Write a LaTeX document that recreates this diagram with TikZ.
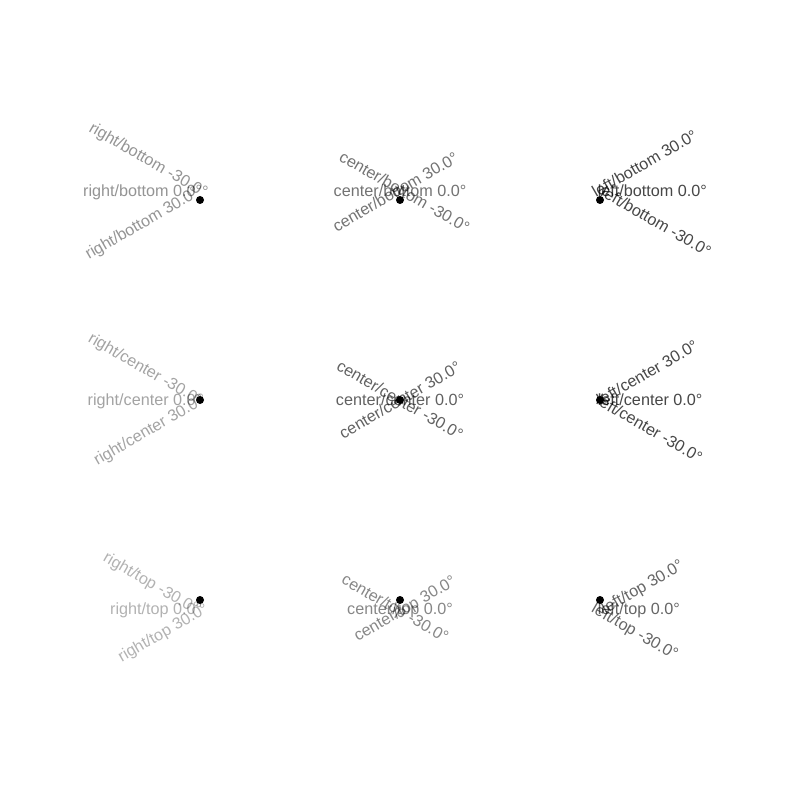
\documentclass[tikz,border=0pt]{standalone}
\usepackage{fontspec}
\setmainfont{Liberation Sans}
\tikzset{
	x=0.01in, y=-0.01in, % one unit is one pixel of the picture, y goes down
	lbl/.style={font=\fontsize{11.7}{13}\selectfont, text=black, inner xsep=-0.025in, inner ysep=0pt, text height=10.6pt, text depth=2.5pt}, % every label
	rbot/.style={lbl, anchor=south east, text opacity=0.42},
	cbot/.style={lbl, anchor=south, text opacity=0.55},
	lbot/.style={lbl, anchor=south west, text opacity=0.72},
	rcen/.style={lbl, anchor=east, text opacity=0.36},
	ccen/.style={lbl, anchor=center, text opacity=0.62},
	lcen/.style={lbl, anchor=west, text opacity=0.72},
	rtop/.style={lbl, anchor=north east, text opacity=0.30},
	ctop/.style={lbl, anchor=north, text opacity=0.47},
	ltop/.style={lbl, anchor=north west, text opacity=0.60},
	spot/.style={fill=black}, % the anchor points
}

\begin{document}
\begin{tikzpicture}
	\fill[white] (0,0) rectangle (800,800);
	\coordinate (p11) at (200,200);
	\coordinate (p12) at (400,200);
	\coordinate (p13) at (600,200);
	\coordinate (p21) at (200,400);
	\coordinate (p22) at (400,400);
	\coordinate (p23) at (600,400);
	\coordinate (p31) at (200,600);
	\coordinate (p32) at (400,600);
	\coordinate (p33) at (600,600);

	% top row
	\node[rbot, rotate=-30] (rb1) at (p11) {right/bottom -30.0°};
	\node[rbot] (rb2) at (p11) {right/bottom 0.0°};
	\node[rbot, rotate=30] (rb3) at (p11) {right/bottom 30.0°};
	\node[cbot, rotate=-30] (cb1) at (p12) {center/bottom -30.0°};
	\node[cbot] (cb2) at (p12) {center/bottom 0.0°};
	\node[cbot, rotate=30] (cb3) at (p12) {center/bottom 30.0°};
	\node[lbot, rotate=-30] (lb1) at (p13) {left/bottom -30.0°};
	\node[lbot] (lb2) at (p13) {left/bottom 0.0°};
	\node[lbot, rotate=30] (lb3) at (p13) {left/bottom 30.0°};

	% middle row
	\node[rcen, rotate=-30] (rc1) at (p21) {right/center -30.0°};
	\node[rcen] (rc2) at (p21) {right/center 0.0°};
	\node[rcen, rotate=30] (rc3) at (p21) {right/center 30.0°};
	\node[ccen, rotate=-30] (cc1) at (p22) {center/center -30.0°};
	\node[ccen] (cc2) at (p22) {center/center 0.0°};
	\node[ccen, rotate=30] (cc3) at (p22) {center/center 30.0°};
	\node[lcen, rotate=-30] (lc1) at (p23) {left/center -30.0°};
	\node[lcen] (lc2) at (p23) {left/center 0.0°};
	\node[lcen, rotate=30] (lc3) at (p23) {left/center 30.0°};

	% bottom row
	\node[rtop, rotate=-30] (rt1) at (p31) {right/top -30.0°};
	\node[rtop] (rt2) at (p31) {right/top 0.0°};
	\node[rtop, rotate=30] (rt3) at (p31) {right/top 30.0°};
	\node[ctop, rotate=-30] (ct1) at (p32) {center/top -30.0°};
	\node[ctop] (ct2) at (p32) {center/top 0.0°};
	\node[ctop, rotate=30] (ct3) at (p32) {center/top 30.0°};
	\node[ltop, rotate=-30] (lt1) at (p33) {left/top -30.0°};
	\node[ltop] (lt2) at (p33) {left/top 0.0°};
	\node[ltop, rotate=30] (lt3) at (p33) {left/top 30.0°};

	\fill[spot] (p11) circle[radius=4];
	\fill[spot] (p12) circle[radius=4];
	\fill[spot] (p13) circle[radius=4];
	\fill[spot] (p21) circle[radius=4];
	\fill[spot] (p22) circle[radius=4];
	\fill[spot] (p23) circle[radius=4];
	\fill[spot] (p31) circle[radius=4];
	\fill[spot] (p32) circle[radius=4];
	\fill[spot] (p33) circle[radius=4];
\end{tikzpicture}
\end{document}
